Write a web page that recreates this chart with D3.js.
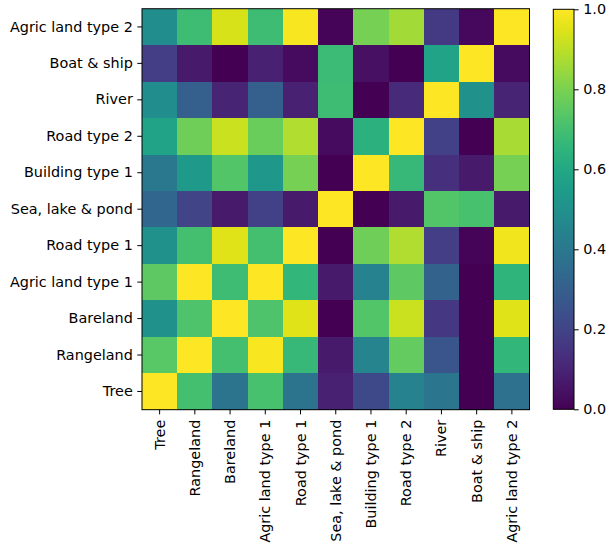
<!DOCTYPE html>
<html>
<head>
<meta charset="utf-8">
<script src="https://cdn.jsdelivr.net/npm/d3@7"></script>
<style>
  body { margin: 0; background: #fff; }
  svg { display: block; }
  text { font-family: "DejaVu Sans", sans-serif; fill: #000; }
</style>
</head>
<body>
<svg id="chart" width="610" height="546"></svg>
<script>
// Column categories (left to right)
const columns = ["Tree", "Rangeland", "Bareland", "Agric land type 1", "Road type 1",
  "Sea, lake & pond", "Building type 1", "Road type 2", "River", "Boat & ship", "Agric land type 2"];
// Row categories (top to bottom)
const rows = ["Agric land type 2", "Boat & ship", "River", "Road type 2", "Building type 1",
  "Sea, lake & pond", "Road type 1", "Agric land type 1", "Bareland", "Rangeland", "Tree"];

// Values per row (top to bottom), columns in order above
const rowAgric2   = [0.49, 0.69, 0.94, 0.69, 0.99, 0.01, 0.79, 0.86, 0.17, 0.02, 1.00];
const rowBoat     = [0.18, 0.07, 0.00, 0.09, 0.03, 0.68, 0.04, 0.00, 0.58, 1.00, 0.03];
const rowRiver    = [0.49, 0.30, 0.10, 0.30, 0.09, 0.69, 0.00, 0.12, 1.00, 0.50, 0.10];
const rowRoad2    = [0.58, 0.78, 0.92, 0.77, 0.88, 0.03, 0.64, 1.00, 0.19, 0.00, 0.87];
const rowBuild1   = [0.40, 0.54, 0.73, 0.53, 0.79, 0.00, 1.00, 0.67, 0.14, 0.07, 0.79];
const rowSea      = [0.33, 0.20, 0.07, 0.19, 0.07, 1.00, 0.00, 0.07, 0.73, 0.71, 0.07];
const rowRoad1    = [0.50, 0.70, 0.95, 0.70, 1.00, 0.00, 0.78, 0.88, 0.18, 0.01, 0.98];
const rowAgric1   = [0.75, 1.00, 0.69, 1.00, 0.66, 0.07, 0.44, 0.75, 0.31, 0.00, 0.65];
const rowBareland = [0.50, 0.72, 1.00, 0.72, 0.95, 0.00, 0.73, 0.92, 0.16, 0.00, 0.95];
const rowRange    = [0.74, 1.00, 0.70, 0.99, 0.67, 0.07, 0.45, 0.76, 0.26, 0.00, 0.66];
const rowTree     = [1.00, 0.70, 0.38, 0.71, 0.38, 0.09, 0.22, 0.44, 0.39, 0.00, 0.37];

const matrix = [rowAgric2, rowBoat, rowRiver, rowRoad2, rowBuild1, rowSea,
  rowRoad1, rowAgric1, rowBareland, rowRange, rowTree];

const colorTicks = [0.0, 0.2, 0.4, 0.6, 0.8, 1.0];

(function () {
const svg = d3.select("#chart");
const pLeft = 142, pRight = 529.5, pTop = 8.7, pBottom = 409.7;
const fs = "14.4px";

const x = d3.scaleBand().domain(columns).range([pLeft, pRight]).padding(0);
const y = d3.scaleBand().domain(rows).range([pTop, pBottom]).padding(0);
const color = d3.scaleSequential(d3.interpolateViridis).domain([0, 1]);

const cells = [];
rows.forEach((r, i) => columns.forEach((c, j) => cells.push({ r, c, v: matrix[i][j] })));

svg.append("g").selectAll("rect").data(cells).join("rect")
  .attr("x", d => x(d.c))
  .attr("y", d => y(d.r))
  .attr("width", x.bandwidth() + 0.4)
  .attr("height", y.bandwidth() + 0.4)
  .attr("fill", d => color(d.v))
  .attr("shape-rendering", "crispEdges");

svg.append("rect")
  .attr("x", pLeft).attr("y", pTop)
  .attr("width", pRight - pLeft).attr("height", pBottom - pTop)
  .attr("fill", "none").attr("stroke", "#000").attr("stroke-width", 1);

// Axes
const yAxis = svg.append("g").attr("transform", `translate(${pLeft},0)`)
  .call(d3.axisLeft(y).tickSize(4.7).tickPadding(4.5));
yAxis.select(".domain").remove();
yAxis.selectAll("text").style("font-size", fs).style("font-family", "DejaVu Sans");
yAxis.selectAll("line").attr("stroke", "#000").attr("stroke-width", 1);

const xAxis = svg.append("g").attr("transform", `translate(0,${pBottom})`)
  .call(d3.axisBottom(x).tickSize(4.7).tickPadding(4.5));
xAxis.select(".domain").remove();
xAxis.selectAll("line").attr("stroke", "#000").attr("stroke-width", 1);
xAxis.selectAll("text")
  .style("font-size", fs).style("font-family", "DejaVu Sans")
  .attr("transform", "rotate(-90)")
  .attr("x", -10)
  .attr("y", 0)
  .attr("dy", "0.35em")
  .attr("text-anchor", "end");

// Colorbar
const cbLeft = 553.3, cbRight = 574, cbTop = 9.3, cbBottom = 409.3;
const defs = svg.append("defs");
const grad = defs.append("linearGradient").attr("id", "vir")
  .attr("x1", 0).attr("y1", 1).attr("x2", 0).attr("y2", 0);
d3.range(0, 1.0001, 0.05).forEach(t => {
  grad.append("stop").attr("offset", t).attr("stop-color", color(t));
});
svg.append("rect")
  .attr("x", cbLeft).attr("y", cbTop)
  .attr("width", cbRight - cbLeft).attr("height", cbBottom - cbTop)
  .attr("fill", "url(#vir)")
  .attr("stroke", "#000").attr("stroke-width", 1);

const cy = d3.scaleLinear().domain([0, 1]).range([cbBottom, cbTop]);
const cAxis = svg.append("g").attr("transform", `translate(${cbRight},0)`)
  .call(d3.axisRight(cy).tickValues(colorTicks).tickFormat(d3.format(".1f")).tickSize(4.7).tickPadding(4.5));
cAxis.select(".domain").remove();
cAxis.selectAll("line").attr("stroke", "#000");
cAxis.selectAll("text").style("font-size", fs).style("font-family", "DejaVu Sans");
})();
</script>
</body>
</html>
